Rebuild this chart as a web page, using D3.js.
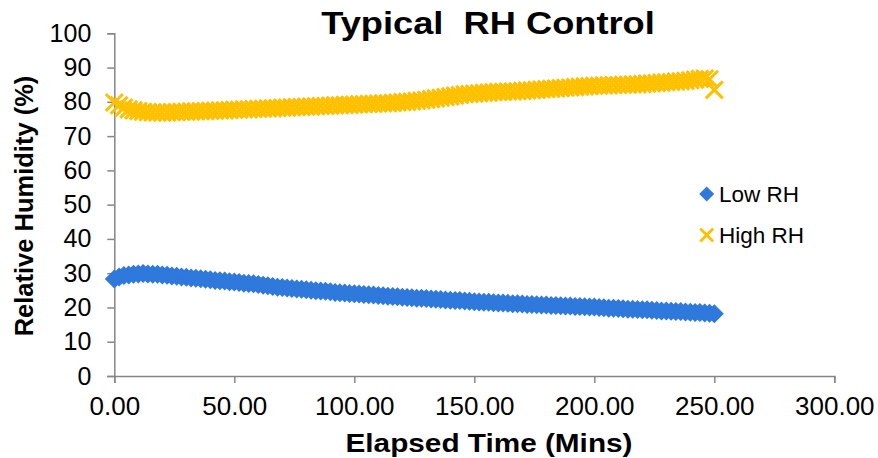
<!DOCTYPE html>
<html>
<head>
<meta charset="utf-8">
<script src="https://cdn.jsdelivr.net/npm/d3@7"></script>
<style>
  html, body { margin: 0; padding: 0; background: #fff; }
  svg { display: block; font-family: "Liberation Sans", Arial, sans-serif; }
</style>
</head>
<body>
<svg id="chart" width="878" height="458"></svg>
<script>
// Logger sampling interval (minutes) and readings for each chamber
const sampleStep = 2;

const lowRH = [
  28.3, 28.9, 29.3, 29.5, 29.7, 29.8, 29.9, 29.8, 29.7, 29.7,
  29.5, 29.4, 29.2, 29.1, 28.9, 28.8, 28.6, 28.5, 28.4, 28.2,
  28.1, 27.9, 27.8, 27.7, 27.5, 27.4, 27.3, 27.1, 27.0, 26.9,
  26.7, 26.5, 26.3, 26.1, 25.9, 25.8, 25.7, 25.5, 25.4, 25.3,
  25.2, 25.0, 24.9, 24.8, 24.7, 24.6, 24.4, 24.3, 24.2, 24.1,
  24.0, 23.9, 23.8, 23.7, 23.6, 23.5, 23.4, 23.3, 23.2, 23.1,
  23.0, 22.9, 22.8, 22.7, 22.7, 22.6, 22.5, 22.4, 22.3, 22.2,
  22.1, 22.0, 22.0, 21.9, 21.8, 21.7, 21.6, 21.5, 21.5, 21.4,
  21.3, 21.3, 21.2, 21.1, 21.1, 21.0, 20.9, 20.9, 20.8, 20.7,
  20.7, 20.6, 20.6, 20.5, 20.4, 20.4, 20.3, 20.3, 20.2, 20.1,
  20.1, 20.0, 19.9, 19.8, 19.8, 19.7, 19.6, 19.5, 19.5, 19.4,
  19.3, 19.3, 19.2, 19.1, 19.0, 19.0, 18.9, 18.8, 18.8, 18.7,
  18.6, 18.5, 18.5, 18.4, 18.3, 18.2
];

const highRH = [
  79.8, 79.0, 78.3, 77.8, 77.5, 77.3, 77.1, 77.0, 76.9, 76.9,
  76.9, 76.9, 77.0, 77.0, 77.1, 77.1, 77.2, 77.2, 77.3, 77.3,
  77.4, 77.4, 77.5, 77.5, 77.6, 77.7, 77.7, 77.8, 77.8, 77.9,
  78.0, 78.0, 78.1, 78.1, 78.2, 78.3, 78.3, 78.4, 78.5, 78.5,
  78.6, 78.6, 78.7, 78.8, 78.8, 78.9, 79.0, 79.0, 79.1, 79.1,
  79.2, 79.3, 79.3, 79.4, 79.4, 79.5, 79.6, 79.6, 79.7, 79.8,
  79.9, 80.0, 80.1, 80.3, 80.4, 80.6, 80.8, 81.0, 81.2, 81.4,
  81.6, 81.8, 82.0, 82.2, 82.3, 82.4, 82.5, 82.6, 82.7, 82.8,
  82.9, 82.9, 83.0, 83.0, 83.1, 83.2, 83.3, 83.4, 83.5, 83.6,
  83.7, 83.8, 83.9, 84.0, 84.1, 84.2, 84.3, 84.4, 84.5, 84.6,
  84.7, 84.7, 84.8, 84.8, 84.9, 84.9, 85.0, 85.0, 85.1, 85.1,
  85.2, 85.3, 85.4, 85.5, 85.6, 85.7, 85.8, 85.9, 86.0, 86.1,
  86.3, 86.5, 86.7, 86.8, 86.6, 83.5
];

const seriesNames = ["Low RH", "High RH"];
const xTicks = [0, 50, 100, 150, 200, 250, 300];
const yTicks = [0, 10, 20, 30, 40, 50, 60, 70, 80, 90, 100];

const blue = "#2F78DC";
const gold = "#FFC000";
const axisGrey = "#868686";

const svg = d3.select("#chart");

const x = d3.scaleLinear().domain([0, 300]).range([114.3, 834.3]);
const y = d3.scaleLinear().domain([0, 100]).range([376, 33.3]);

// Axes
const yAxis = d3.axisLeft(y).tickValues(yTicks).tickFormat(d3.format("d"))
  .tickSize(7).tickPadding(16);
const xAxis = d3.axisBottom(x).tickValues(xTicks).tickFormat(d3.format(".2f"))
  .tickSize(7).tickPadding(14);

function styleAxis(g, size) {
  g.select(".domain").attr("stroke", axisGrey).attr("stroke-width", 1.5);
  g.selectAll(".tick line").attr("stroke", axisGrey).attr("stroke-width", 1.5);
  g.selectAll(".tick text").attr("fill", "#000")
    .style("font-family", "'Liberation Sans', Arial, sans-serif")
    .style("font-size", size + "px");
}

svg.append("g").attr("transform", `translate(${x(0)},0)`).call(yAxis).call(styleAxis, 25);
svg.append("g").attr("transform", `translate(0,${y(0)})`).call(xAxis).call(styleAxis, 26);

// Series points
const toPoints = vals => vals.map((v, i) => ({ t: i * sampleStep, v }));

const diamond = r => `M0,${-r}L${r},0L0,${r}L${-r},0Z`;
const cross = r => `M${-r},${-r}L${r},${r}M${-r},${r}L${r},${-r}`;

svg.append("g").selectAll("path")
  .data(toPoints(lowRH))
  .join("path")
  .attr("transform", d => `translate(${x(d.t)},${y(d.v)})`)
  .attr("d", diamond(9.5))
  .attr("fill", blue);

svg.append("g").selectAll("path")
  .data(toPoints(highRH))
  .join("path")
  .attr("transform", d => `translate(${x(d.t)},${y(d.v)})`)
  .attr("d", cross(8.5))
  .attr("fill", "none")
  .attr("stroke", gold)
  .attr("stroke-width", 3);

// Legend
const legend = svg.append("g");
legend.append("path").attr("transform", "translate(706.7,194)")
  .attr("d", diamond(7.5)).attr("fill", blue);
legend.append("text").attr("x", 719).attr("y", 201.5)
  .style("font-size", "22.5px").attr("fill", "#000").text(seriesNames[0]);
legend.append("path").attr("transform", "translate(706.7,235)")
  .attr("d", cross(6.5)).attr("fill", "none").attr("stroke", gold).attr("stroke-width", 2.8);
legend.append("text").attr("x", 719).attr("y", 242.5)
  .style("font-size", "22.5px").attr("fill", "#000").text(seriesNames[1]);

// Titles
svg.append("text")
  .attr("transform", "translate(488,34) scale(1.17,1)")
  .attr("text-anchor", "middle")
  .style("font-size", "31px").style("font-weight", "bold")
  .style("white-space", "pre")
  .text("Typical  RH Control");

svg.append("text")
  .attr("transform", "translate(489,452) scale(1.19,1)")
  .attr("text-anchor", "middle")
  .style("font-size", "25px").style("font-weight", "bold")
  .text("Elapsed Time (Mins)");

svg.append("text")
  .attr("transform", "translate(33,206) rotate(-90)")
  .attr("text-anchor", "middle")
  .style("font-size", "25.5px").style("font-weight", "bold")
  .text("Relative Humidity (%)");
</script>
</body>
</html>
